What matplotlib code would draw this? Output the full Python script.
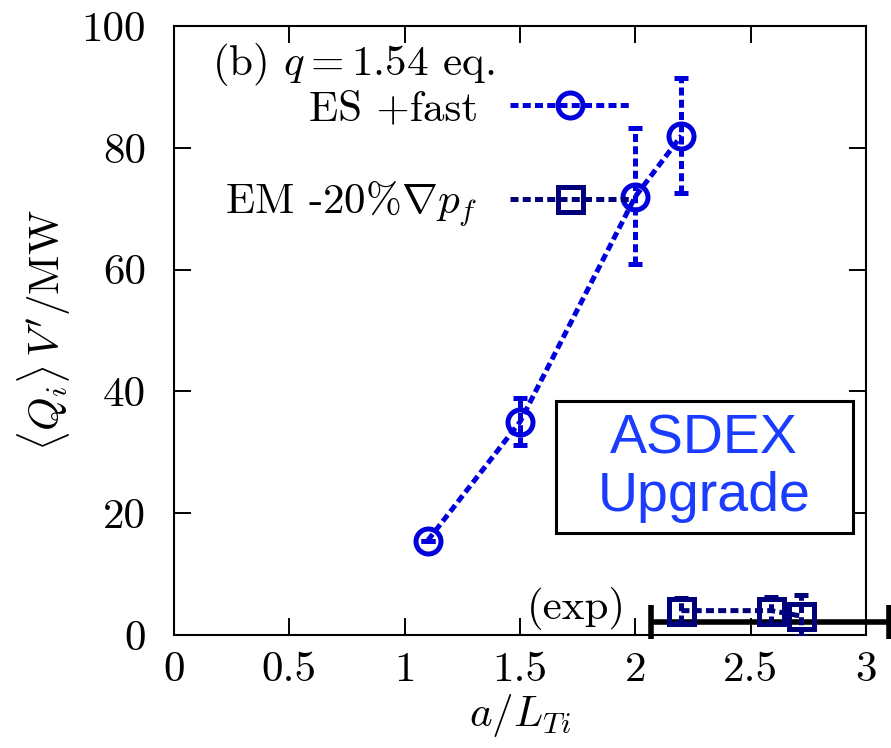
import matplotlib
matplotlib.use("Agg")
import matplotlib.pyplot as plt
from matplotlib.patches import Rectangle

plt.rcParams["font.family"] = ["cmr10", "DejaVu Serif"]
plt.rcParams["mathtext.fontset"] = "cm"
plt.rcParams["axes.unicode_minus"] = False
plt.rcParams["axes.formatter.use_mathtext"] = True

# ES +fast (electrostatic with fast ions)
es_x = [1.10, 1.50, 2.00, 2.20]
es_y = [15.5, 35.0, 72.0, 82.0]
es_err_lo = [0.0, 3.8, 11.0, 9.5]
es_err_hi = [0.0, 3.9, 11.3, 9.5]

# EM -20% grad p_f
em_x = [2.20, 2.59, 2.72]
em_y = [4.0, 4.0, 3.1]
em_err = [2.0, 2.2, 3.5]

# experimental range
exp_x = 2.585
exp_y = 2.2
exp_xerr = 0.515

xticks = [0, 0.5, 1, 1.5, 2, 2.5, 3]
xtick_labels = ["0", "0.5", "1", "1.5", "2", "2.5", "3"]
yticks = [0, 20, 40, 60, 80, 100]
ytick_labels = ["0", "20", "40", "60", "80", "100"]

blue = "#0000dc"
navy = "#00007a"
lw = 3.6
dots = (0, (1.6, 0.85))
fs = 31

fig = plt.figure(figsize=(8.91, 7.48), dpi=100)
ax = fig.add_axes([0.1953, 0.1511, 0.7766, 0.8141])

# error bars first, then lines with markers on top
ax.errorbar(es_x, es_y, yerr=[es_err_lo, es_err_hi], fmt="none", ecolor=blue,
            elinewidth=lw, capsize=5, capthick=lw, zorder=3)
for c in ax.containers[-1].lines[2]:
    c.set_linestyle(dots)
ax.plot(es_x, es_y, color=blue, lw=lw, linestyle=dots, marker="o", ms=18,
        mew=3.6, mfc="none", mec=blue, label="ES +fast", zorder=4)

ax.errorbar(em_x, em_y, yerr=em_err, fmt="none", ecolor=navy,
            elinewidth=lw, capsize=5, capthick=lw, zorder=3)
for c in ax.containers[-1].lines[2]:
    c.set_linestyle(dots)
ax.plot(em_x, em_y, color=navy, lw=lw, linestyle=dots, marker="s", ms=18,
        mew=3.6, mfc="none", mec=navy, label="EM -20%$\\nabla p_f$", zorder=4)

ax.errorbar([exp_x], [exp_y], xerr=[exp_xerr], fmt="none", ecolor="black",
            elinewidth=4, capsize=12, capthick=4, clip_on=False, zorder=2)
for art in ax.containers[-1].lines[1] + ax.containers[-1].lines[2]:
    art.set_clip_on(False)
ax.text(1.96, 4.3, "(exp)", fontsize=fs, ha="right", va="center")

ax.text(0.055, 0.975, "(b) $q = 1.54$ eq.", transform=ax.transAxes,
        fontsize=fs, ha="left", va="top")

# label box
ax.add_patch(Rectangle((0.552, 0.1675), 0.429, 0.2165, transform=ax.transAxes,
                       fc="white", ec="black", lw=2.2, zorder=5))
ax.text(0.766, 0.274, "ASDEX\nUpgrade", transform=ax.transAxes, fontsize=40,
        color="#1a3cff", family="Liberation Sans", ha="center", va="center",
        linespacing=1.12, zorder=6)

leg = ax.legend(loc="upper right", bbox_to_anchor=(0.66, 0.895),
                frameon=False, markerfirst=False, numpoints=1, fontsize=fs,
                handlelength=2.8, handletextpad=0.75, labelspacing=1.2,
                borderpad=0, borderaxespad=0)

ax.set_xlim(0, 3)
ax.set_ylim(0, 100)
ax.set_xticks(xticks)
ax.set_xticklabels(xtick_labels)
ax.set_yticks(yticks)
ax.set_yticklabels(ytick_labels)
ax.tick_params(direction="in", length=12, width=1.4, top=True, right=True,
               labelsize=fs)
ax.tick_params(axis="x", pad=12)
ax.tick_params(axis="y", pad=20)
for s in ax.spines.values():
    s.set_linewidth(1.5)

ax.set_xlabel("$a/L_{Ti}$", fontsize=fs, labelpad=2)
ax.set_ylabel("$\\langle Q_i\\rangle\\, V'/\\mathrm{MW}$", fontsize=fs, labelpad=6)

fig.savefig("out.png", dpi=100)
